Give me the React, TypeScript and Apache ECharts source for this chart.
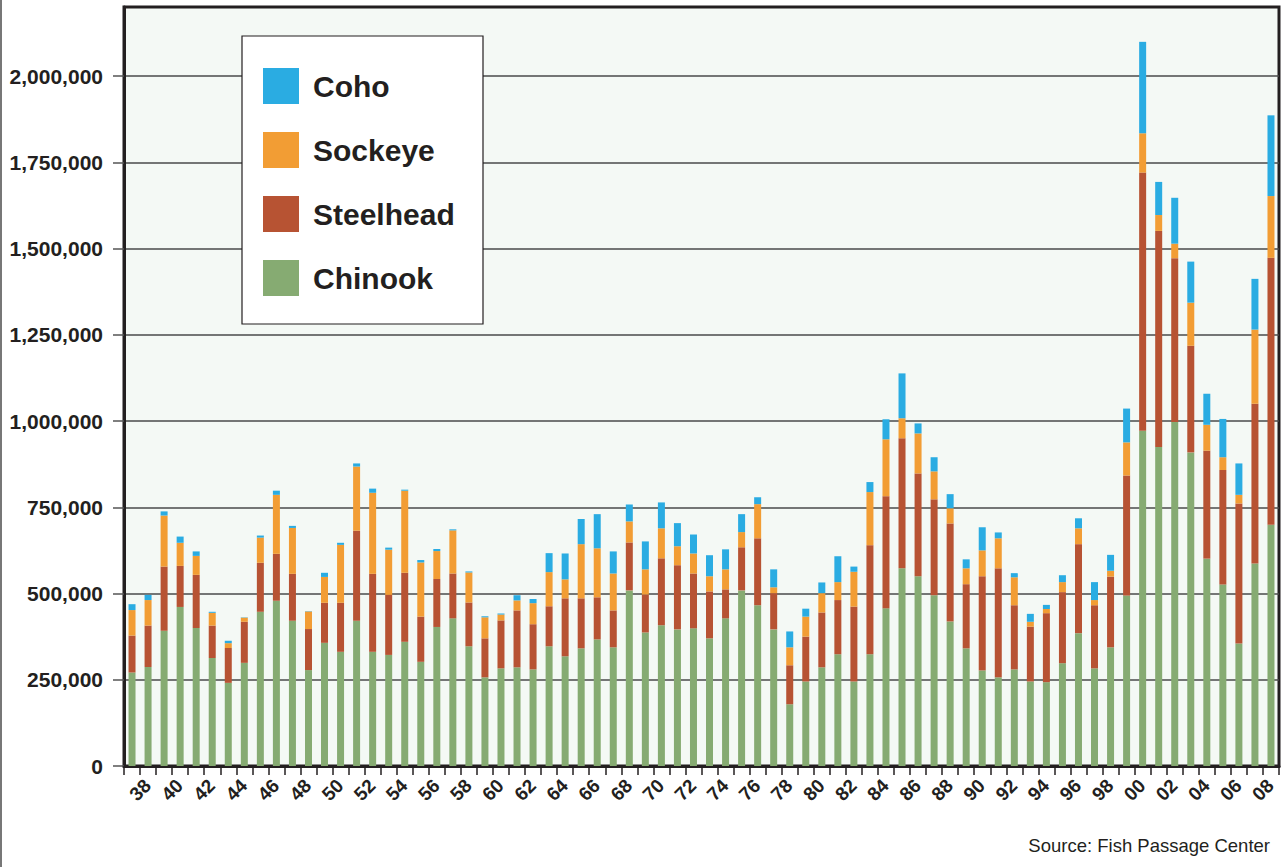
import React, { useEffect, useRef } from "react";
import * as echarts from "echarts";

const years = [
  "38", "39", "40", "41", "42", "43", "44", "45", "46", "47",
  "48", "49", "50", "51", "52", "53", "54", "55", "56", "57",
  "58", "59", "60", "61", "62", "63", "64", "65", "66", "67",
  "68", "69", "70", "71", "72", "73", "74", "75", "76", "77",
  "78", "79", "80", "81", "82", "83", "84", "85", "86", "87",
  "88", "89", "90", "91", "92", "93", "94", "95", "96", "97",
  "98", "99", "00", "01", "02", "03", "04", "05", "06", "07",
  "08", "09",
];

const chinook = [
  271000, 287000, 392000, 461000, 400000, 313000, 241000, 299000, 447000, 479000,
  421000, 278000, 357000, 331000, 421000, 331000, 322000, 360000, 302000, 403000,
  428000, 347000, 257000, 283000, 286000, 280000, 347000, 318000, 341000, 367000,
  344000, 509000, 387000, 408000, 396000, 399000, 370000, 428000, 509000, 466000,
  396000, 179000, 245000, 286000, 324000, 245000, 324000, 457000, 573000, 550000,
  495000, 419000, 341000, 277000, 257000, 280000, 245000, 243000, 298000, 385000,
  283000, 344000, 494000, 972000, 925000, 997000, 909000, 601000, 526000, 355000,
  587000, 699000,
];

const steelhead = [
  107000, 120000, 186000, 119000, 154000, 94000, 101000, 119000, 142000, 136000,
  136000, 119000, 116000, 142000, 261000, 226000, 174000, 200000, 131000, 139000,
  130000, 127000, 113000, 139000, 165000, 131000, 116000, 168000, 145000, 122000,
  107000, 139000, 110000, 194000, 186000, 159000, 136000, 84000, 125000, 194000,
  105000, 113000, 130000, 159000, 157000, 217000, 316000, 325000, 377000, 298000,
  278000, 284000, 186000, 273000, 316000, 186000, 159000, 200000, 206000, 258000,
  183000, 205000, 348000, 748000, 626000, 475000, 309000, 313000, 332000, 406000,
  463000, 774000,
];

const sockeye = [
  74000, 74000, 148000, 67000, 55000, 37000, 14000, 12000, 73000, 171000,
  133000, 51000, 75000, 168000, 186000, 235000, 131000, 238000, 157000, 81000,
  125000, 87000, 61000, 17000, 29000, 61000, 99000, 55000, 157000, 142000,
  107000, 61000, 73000, 87000, 55000, 58000, 44000, 58000, 44000, 99000,
  17000, 52000, 58000, 56000, 52000, 101000, 154000, 165000, 58000, 116000,
  81000, 44000, 46000, 75000, 87000, 81000, 14000, 12000, 29000, 46000,
  15000, 17000, 96000, 114000, 46000, 42000, 125000, 75000, 37000, 25000,
  215000, 179000,
];

const coho = [
  17000, 15000, 12000, 18000, 13000, 3000, 7000, 1000, 6000, 12000,
  6000, 1000, 12000, 6000, 9000, 12000, 6000, 3000, 7000, 6000,
  3000, 3000, 3000, 3000, 15000, 12000, 55000, 75000, 73000, 99000,
  64000, 49000, 81000, 75000, 67000, 55000, 61000, 58000, 52000, 20000,
  52000, 46000, 23000, 31000, 75000, 15000, 29000, 58000, 130000, 29000,
  41000, 41000, 26000, 67000, 17000, 12000, 23000, 12000, 20000, 29000,
  52000, 46000, 98000, 265000, 96000, 133000, 119000, 90000, 111000, 91000,
  147000, 234000,
];

const yTicks = [0, 250000, 500000, 750000, 1000000, 1250000, 1500000, 1750000, 2000000];

const TEXT = "#231f20";
const FONT = "'Liberation Sans', Arial, Helvetica, sans-serif";

export default function App() {
  const ref = useRef<HTMLDivElement>(null);

  useEffect(() => {
    if (!ref.current) return;
    const chart = echarts.init(ref.current, undefined, { renderer: "svg" });
    const mk = (name: string, data: number[], color: string) => ({
      name,
      type: "bar",
      stack: "total",
      xAxisIndex: 0,
      data,
      barWidth: 7,
      itemStyle: { color },
      emphasis: { disabled: true },
    });
    // label axis: tick boundaries, labels sit at the right edge of each year's slot
    const labelSlots = ["", ...years];
    chart.setOption({
      animation: false,
      textStyle: { fontFamily: FONT },
      grid: {
        left: 124,
        right: 8,
        top: 7,
        bottom: 101,
        show: true,
        backgroundColor: "#f4f9f5",
        borderColor: TEXT,
        borderWidth: 3,
        containLabel: false,
      },
      legend: {
        orient: "vertical",
        left: 263,
        top: 68,
        padding: 0,
        itemWidth: 36,
        itemHeight: 36,
        itemGap: 28,
        icon: "rect",
        selectedMode: false,
        z: 10,
        data: ["Coho", "Sockeye", "Steelhead", "Chinook"],
        textStyle: {
          fontSize: 30,
          fontWeight: "bold",
          color: TEXT,
          fontFamily: FONT,
          padding: [0, 0, 7, 9],
        },
      },
      xAxis: [
        {
          type: "category",
          data: years,
          boundaryGap: true,
          axisLine: { show: true, lineStyle: { color: TEXT, width: 3 } },
          axisTick: {
            show: true,
            interval: 0,
            length: 9,
            lineStyle: { color: TEXT, width: 1.5 },
          },
          axisLabel: { show: false },
          splitLine: { show: false },
        },
        {
          type: "category",
          position: "bottom",
          data: labelSlots,
          boundaryGap: false,
          axisLine: { show: false },
          axisTick: { show: false },
          splitLine: { show: false },
          axisPointer: { show: false },
          axisLabel: {
            interval: (i: number) => i % 2 === 1,
            rotate: 45,
            align: "center",
            verticalAlign: "middle",
            margin: 24,
            fontSize: 19,
            fontWeight: "bold",
            color: TEXT,
            fontFamily: FONT,
          },
        },
      ],
      yAxis: {
        type: "value",
        min: 0,
        max: 2200000,
        interval: 250000,
        axisLine: { show: true, lineStyle: { color: TEXT, width: 3 } },
        axisTick: {
          show: true,
          length: 11,
          customValues: yTicks,
          lineStyle: { color: "#555", width: 1.5 },
        },
        axisLabel: {
          customValues: yTicks,
          margin: 21,
          fontSize: 21,
          fontWeight: "bold",
          color: TEXT,
          fontFamily: FONT,
          formatter: (v: number) => v.toLocaleString("en-US"),
        },
        splitLine: { show: true, lineStyle: { color: "#4a4a4a", width: 1.5 } },
      },
      graphic: [
        {
          type: "rect",
          z: 3,
          shape: { x: 242, y: 36, width: 241, height: 288 },
          style: { fill: "#ffffff", stroke: TEXT, lineWidth: 1.2 },
        },
        {
          type: "line",
          z: 3,
          shape: { x1: 1, y1: 0, x2: 1, y2: 867 },
          style: { stroke: "#777", lineWidth: 2 },
        },
        {
          type: "text",
          z: 3,
          x: 1270,
          y: 845,
          style: {
            text: "Source: Fish Passage Center",
            fontSize: 18.5,
            fontFamily: FONT,
            fill: TEXT,
            textAlign: "right",
            textVerticalAlign: "middle",
          },
        },
      ],
      series: [
        mk("Chinook", chinook, "#86ab72"),
        mk("Steelhead", steelhead, "#b75333"),
        mk("Sockeye", sockeye, "#f29d34"),
        mk("Coho", coho, "#2aace2"),
      ],
    });
    return () => chart.dispose();
  }, []);

  return (
    <div
      ref={ref}
      style={{ position: "fixed", left: 0, top: 0, width: 1287, height: 867, background: "#ffffff" }}
    />
  );
}
